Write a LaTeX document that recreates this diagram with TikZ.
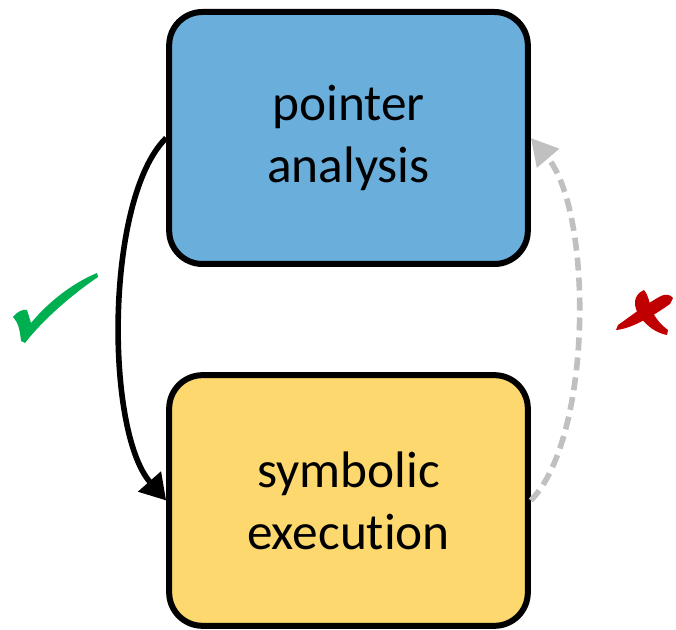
\documentclass[tikz,border=0pt]{standalone}
\usepackage{fontspec}
\setmainfont{Carlito}[RawFeature=-liga]
\usetikzlibrary{arrows.meta}
\definecolor{pablue}{HTML}{6AAEDB}
\definecolor{seyellow}{HTML}{FDD86E}
\definecolor{okgreen}{HTML}{00B050}
\definecolor{badred}{HTML}{C00000}
\definecolor{failgray}{HTML}{C0C0C0}
\tikzset{
  box/.style={draw=black, line width=4.5pt, rounded corners=25pt,
    minimum width=269pt, minimum height=189pt, align=center,
    font=\fontsize{38.5}{46.5}\selectfont, inner sep=0pt},
  okarrow/.style={draw=black, line width=4.2pt,
    -{Triangle[length=19pt,width=22pt]}},
  failarrow/.style={draw=failgray, line width=4.2pt, dash pattern=on 9.75pt off 5.25pt,
    -{Triangle[length=20pt,width=21pt]}},
}
\begin{document}
\begin{tikzpicture}[x=0.75pt,y=-0.75pt]
\useasboundingbox (0,0) rectangle (676,630);
\node[box, fill=pablue] (pa) at (348.5,138) {pointer\\analysis};
\node[box, fill=seyellow, minimum height=188pt] (se) at (348.5,500.5) {symbolic\\execution};
\draw[okarrow] (pa.west) .. controls (105,198) and (105,431) .. (se.west);
\draw[failarrow] (se.east) .. controls (593,437) and (593,211) .. (pa.east);
% check mark
\fill[okgreen] (13,317) .. controls (17,312) and (22,309) .. (27,310)
  -- (31,323) .. controls (50,300) and (75,282) .. (97,273)
  -- (98,277) .. controls (70,296) and (42,321) .. (25,343)
  -- (21,341) .. controls (20,330) and (18,322) .. cycle;
% cross
\fill[badred] (644,290) .. controls (633,295) and (632,306) .. (641,318)
  .. controls (647,326) and (656,333) .. (667,335)
  -- (668,330) .. controls (661,325) and (655,318) .. (652,310)
  .. controls (649,302) and (648,294) .. cycle;
\fill[badred] (616,330) .. controls (630,329) and (650,318) .. (670,304)
  -- (673,298) .. controls (670,294) and (665,294) .. (661,296)
  .. controls (646,304) and (631,316) .. (618,325) -- cycle;
\end{tikzpicture}
\end{document}
